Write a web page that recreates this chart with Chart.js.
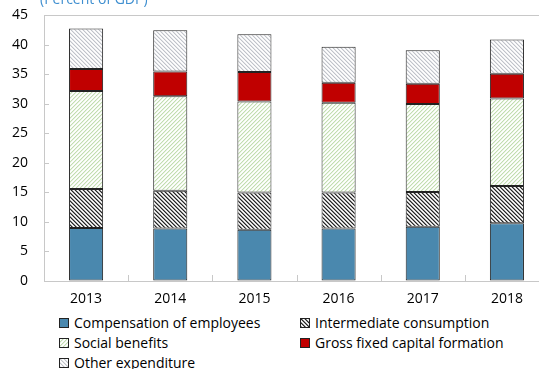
<!DOCTYPE html>
<html><head><meta charset="utf-8">
<script src="https://cdn.jsdelivr.net/npm/chart.js@4/dist/chart.umd.min.js"></script>
<style>
html,body{margin:0;padding:0;background:#fff;}
body{width:539px;height:369px;overflow:hidden;position:relative;font-family:'Open Sans',sans-serif;}
#wrap{position:absolute;left:0;top:-9px;width:549px;height:321px;}
#title{position:absolute;left:40px;top:-11px;font-size:14px;line-height:20px;color:#3f8fd0;white-space:nowrap;z-index:2;}
.leg{position:absolute;font-size:14px;line-height:18px;color:#000;display:flex;align-items:center;white-space:nowrap;}
.leg canvas{margin-right:5px;}
</style></head>
<body>
<div id="wrap"><canvas id="c" width="549" height="321"></canvas></div>
<div id="title">(Percent of GDP)</div>
<div id="legend"></div>
<script>
const categories = ['2013','2014','2015','2016','2017','2018'];
const compensation = [9.0, 8.9, 8.7, 8.9, 9.2, 9.8];
const intermediate = [6.6, 6.4, 6.3, 6.1, 5.9, 6.3];
const socialBenefits = [16.6, 16.0, 15.4, 15.2, 14.9, 14.8];
const grossFixedCapital = [3.7, 4.2, 5.0, 3.4, 3.4, 4.2];
const otherExpenditure = [6.9, 7.0, 6.4, 6.1, 5.7, 5.8];
const yTicks = [0,5,10,15,20,25,30,35,40,45];
const seriesNames = ['Compensation of employees','Intermediate consumption','Social benefits','Gross fixed capital formation','Other expenditure'];

const hatchSpecs = {
  1: [['#262626','#8c8c8c','#ffffff','#d0d0d0'],'\\'],
  2: [['#c2ddb0','#e8f2e1','#ffffff','#f7fbf5'],'/'],
  4: [['#c0c3ca','#e6e7ea','#ffffff','#f6f6f7'],'\\']
};
function hatch(ctx, colors, dir){
  const s=colors.length, c=document.createElement('canvas'); c.width=s; c.height=s;
  const g=c.getContext('2d');
  for(let x=0;x<s;x++)for(let y=0;y<s;y++){
    const k = dir==='\\' ? ((x-y)%s+s)%s : (x+y)%s;
    g.fillStyle=colors[k]; g.fillRect(x,y,1,1);
  }
  return ctx.createPattern(c,'repeat');
}
function fillFor(ctx, idx){
  if(idx===0) return '#4a88ae';
  if(idx===3) return '#c00000';
  return hatch(ctx, hatchSpecs[idx][0], hatchSpecs[idx][1]);
}
const ctxMain=document.getElementById('c').getContext('2d');
const values=[compensation,intermediate,socialBenefits,grossFixedCapital,otherExpenditure];

Chart.defaults.font.family="'Open Sans', sans-serif";
Chart.defaults.font.size=14;
Chart.defaults.color='#000';

const innerTicks={
  id:'innerTicks',
  afterDraw(chart){
    const {ctx,chartArea:{left,right,top,bottom},scales:{x,y}}=chart;
    ctx.save(); ctx.strokeStyle='#c8c8c8'; ctx.lineWidth=1; ctx.beginPath();
    ctx.moveTo(left,Math.round(top)+0.5); ctx.lineTo(right,Math.round(top)+0.5);
    y.ticks.forEach(t=>{const py=Math.round(y.getPixelForValue(t.value))+0.5; ctx.moveTo(left,py); ctx.lineTo(left+5,py);});
    for(let i=1;i<categories.length;i++){
      const px=Math.round((x.getPixelForValue(i-1)+x.getPixelForValue(i))/2)+0.5;
      ctx.moveTo(px,bottom); ctx.lineTo(px,bottom-6);
    }
    ctx.stroke(); ctx.restore();
  }
};

new Chart(ctxMain,{
  type:'bar',
  data:{labels:categories,datasets:values.map((v,i)=>({
    label:seriesNames[i],data:v,backgroundColor:fillFor(ctxMain,i),borderColor:'#222',borderWidth:1,borderSkipped:false
  }))},
  options:{
    responsive:false,animation:false,
    layout:{padding:{top:5,right:0,left:0,bottom:0}},
    plugins:{legend:{display:false},tooltip:{enabled:false}},
    datasets:{bar:{categoryPercentage:1,barPercentage:0.405}},
    scales:{
      x:{stacked:true,
        grid:{drawOnChartArea:false,drawTicks:false},
        border:{display:true,color:'#c8c8c8'},
        ticks:{padding:10,font:{size:14}},
        afterFit(s){s.height=31;}
      },
      y:{stacked:true,min:0,max:45,
        afterBuildTicks(s){s.ticks=yTicks.map(v=>({value:v}));},
        grid:{drawOnChartArea:false,drawTicks:false},
        border:{display:true,color:'#c8c8c8'},
        ticks:{padding:16,font:{size:14}},
        afterFit(s){s.width=44;}
      }
    }
  },
  plugins:[innerTicks]
});

// legend
const legPos=[[59,314],[300,314],[59,334],[300,334],[59,354]];
const legEl=document.getElementById('legend');
[0,1,2,3,4].forEach((idx,j)=>{
  const d=document.createElement('div'); d.className='leg';
  d.style.left=legPos[j][0]+'px'; d.style.top=legPos[j][1]+'px';
  const sw=document.createElement('canvas'); sw.width=10; sw.height=10;
  const g=sw.getContext('2d');
  g.fillStyle=fillFor(g,idx); g.fillRect(0,0,10,10);
  g.strokeStyle='#222'; g.lineWidth=1; g.strokeRect(0.5,0.5,9,9);
  const sp=document.createElement('span'); sp.textContent=seriesNames[idx];
  d.appendChild(sw); d.appendChild(sp); legEl.appendChild(d);
});
</script>
</body></html>
